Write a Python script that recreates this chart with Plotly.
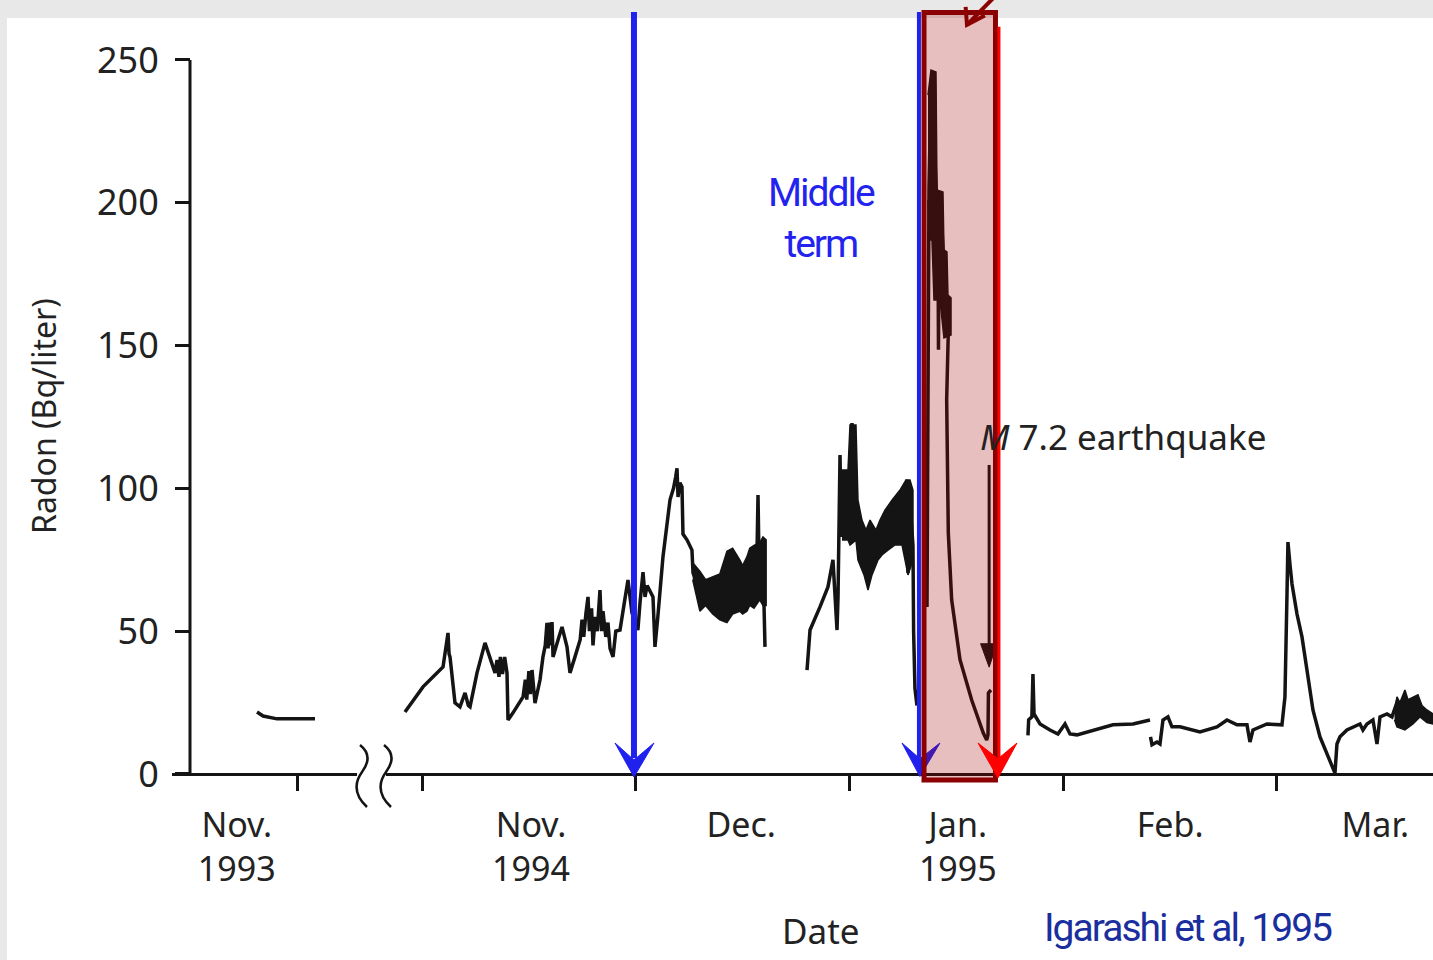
import plotly.graph_objects as go

# ---------------- data ----------------
# x = day index, day 0 = 1 Nov 1994 (each month drawn 30 days wide);
# the Nov 1993 block sits to the left of the axis break.
seg_nov1993 = [(-23.16, 21.7), (-22.3, 20.3), (-20.35, 19.3), (-15.02, 19.3)]

seg_nov_dec1994 = [
    (-2.39, 21.7), (0.14, 30.5), (2.95, 37.5), (3.5, 47), (3.65, 49.4), (3.8, 42), (3.93, 41.0),
    (4.63, 24.9), (5.33, 23.5), (6.04, 28.4), (6.5, 24), (6.74, 23.5), (7.72, 35.4), (8.84, 45.9),
    (9.54, 41.0), (10.0, 37), (10.25, 35.4), (10.53, 39.9), (10.8, 34), (11.0, 41), (11.3, 35),
    (11.6, 41), (11.93, 35.4), (12.07, 18.9), (12.77, 21.4), (14.18, 27.0), (14.5, 33), (14.7, 26),
    (15.0, 36), (15.2, 28), (15.44, 36.4), (15.86, 24.8), (16.56, 32.9), (16.98, 41.0), (17.3, 45),
    (17.54, 52.9), (17.7, 44), (17.9, 53), (18.1, 45), (18.25, 53.2), (18.39, 41.0), (19.09, 46.9),
    (19.65, 51.5), (20.35, 44.5), (20.77, 35.4), (21.47, 41.0), (22.2, 47), (22.46, 54), (22.7, 48),
    (23.0, 56), (23.3, 62), (23.5, 50), (23.8, 58), (24.0, 45), (24.3, 55), (24.6, 50), (24.98, 64.4),
    (25.2, 50), (25.4, 57), (25.8, 48), (26.1, 53), (26.39, 44), (26.81, 41.0), (27.2, 50),
    (27.79, 50.4), (28.4, 60), (28.91, 67.9), (29.47, 56.4), (30.3, 50.4), (30.6, 60), (31.02, 70.7),
    (31.3, 62), (31.6, 66), (32.42, 62.0), (32.7, 44.5), (33.1, 55), (33.82, 76.0), (34.81, 96.0),
    (35.3, 100), (35.6, 104), (35.79, 107.0), (35.93, 97), (36.2, 102), (36.49, 100.5), (36.63, 84.0),
    (37.19, 82), (37.6, 80), (37.89, 78.4), (38.04, 70.4), (39.0, 64), (41.0, 62), (43.0, 66),
    (45.0, 65), (46.6, 68), (47.0, 75), (47.16, 97.7), (47.3, 75), (47.9, 70), (48.14, 44.5),
]
band_dec1994 = [
    (38.0, 74), (39.0, 71), (39.8, 68), (40.8, 69), (41.8, 70), (42.8, 78), (43.6, 79), (44.6, 75),
    (45.0, 73), (45.6, 76), (46.0, 79), (46.6, 80), (47.4, 81), (47.86, 83), (48.3, 82),
    (48.3, 59), (47.86, 59), (47.4, 61), (46.6, 58), (46.0, 59), (45.6, 57), (45.0, 56), (44.6, 57),
    (43.6, 56), (42.8, 53), (41.8, 54), (40.8, 56), (39.8, 59), (39.0, 57), (38.0, 68),
]

seg_late_dec = [
    (54.04, 36.4), (54.46, 50.4), (55.86, 58.5), (56.98, 65.5), (57.68, 75.0), (58.25, 50.4),
    (58.39, 62), (58.67, 111.7), (58.85, 83), (59.1, 105), (59.8, 95), (60.35, 122.9), (60.6, 100),
    (61.19, 90), (61.8, 78), (62.6, 70), (63.3, 72), (64.3, 80), (65.3, 83), (66.5, 88), (67.5, 92),
    (68.07, 103), (68.21, 70.4), (68.5, 95), (68.91, 80), (69.0, 50), (69.19, 30), (69.47, 24),
]
band_late_dec = [
    (58.95, 106.4), (59.79, 106.4), (60.07, 122.2), (60.91, 122.2), (61.19, 95.9), (61.75, 88.9),
    (62.32, 85.4), (62.88, 88.9), (63.72, 85.4), (64.28, 88.9), (64.98, 92.4), (65.96, 95.9),
    (67.09, 99.4), (67.93, 102.9), (68.49, 102.9), (68.91, 99.4), (68.91, 74.9), (68.21, 69.7),
    (67.37, 80.2), (66.39, 80.2), (65.40, 78.4), (64.56, 76.7), (64.0, 74.9), (63.16, 69.7),
    (62.6, 64.4), (62.04, 69.7), (61.19, 74.9), (60.91, 81.9), (60.07, 80.2), (59.79, 81.9),
    (58.95, 81.9),
]

seg_jan1995 = [
    (70.88, 58.5), (71.02, 187), (71.16, 205), (71.44, 240), (71.58, 245.8), (72.0, 215),
    (72.42, 190), (72.49, 148.5), (72.56, 185), (73.0, 190), (73.4, 170), (73.9, 158), (73.64, 131),
    (73.87, 84.4), (74.34, 61), (75.51, 40), (77.15, 25.9), (78.78, 14.3), (79.26, 11.9),
    (79.44, 13.7), (79.5, 28.4), (79.86, 29.4),
]
band_jan1995 = [
    (71.02, 237.7), (71.44, 246.5), (72.14, 245.8), (72.28, 204.5), (73.12, 203.8), (73.26, 183.5),
    (73.68, 182.8), (73.82, 167.7), (74.25, 166.7), (74.25, 153.7), (73.26, 152.7), (72.7, 166),
    (71.86, 166), (71.58, 187), (71.16, 187), (71.02, 201),
]

seg_feb1995 = [
    (85.05, 13.5), (85.15, 19), (85.6, 20), (85.75, 35), (85.9, 21), (86.74, 17.5), (88.14, 15.4),
    (89.26, 14.0), (90.25, 17.5), (90.95, 14.0), (91.93, 13.7), (94.18, 15.4), (96.98, 17.2),
    (99.79, 17.5), (102.18, 18.9),
]
seg_feb_mar1995 = [
    (102.25, 13), (102.46, 10.2), (103.16, 11.2), (103.58, 10.5), (104.0, 18.9), (104.7, 20),
    (105.26, 16.5), (106.39, 16.5), (109.19, 14.7), (111.58, 16.5), (112.98, 18.9), (114.39, 17.2),
    (115.79, 17.2), (116.21, 11.2), (116.63, 15.4), (118.6, 17.5), (120.7, 17.2), (121.12, 27),
    (121.4, 62), (121.54, 81.2), (121.82, 73.5), (122.11, 66.5), (122.81, 56), (123.51, 48),
    (124.21, 36.4), (125.05, 22.4), (126.04, 13), (127.16, 6), (128.14, 0.3), (128.42, 10.5),
    (128.84, 13), (129.82, 15.4), (130.67, 16.5), (131.65, 17.5), (132.07, 15.4), (132.63, 17.5),
    (133.47, 18.9), (134.04, 10.5), (134.46, 20), (135.44, 21), (136.14, 20), (136.84, 25),
    (137.96, 24), (139.09, 22), (140.35, 21), (141.05, 20), (141.95, 19),
]
band_mar1995 = [
    (136.5, 22), (136.84, 27), (137.26, 25), (137.96, 29.4), (138.39, 26), (139.09, 27),
    (139.79, 27.7), (140.35, 24), (141.05, 22.4), (141.95, 21), (141.95, 17.5), (141.05, 18),
    (140.07, 20), (139.09, 17.5), (137.96, 15.4), (136.84, 16.5), (136.5, 19),
]

y_ticks = [0, 50, 100, 150, 200, 250]
x_label_pos = [-26.0, 15.3, 44.8, 75.2, 105.0, 133.8]
x_labels = ["Nov.<br>1993", "Nov.<br>1994", "Dec.", "Jan.<br>1995", "Feb.", "Mar."]
month_ticks = [-17.5, 0, 30, 60, 90, 120]

# ---------------- layout geometry ----------------
W, H = 1433, 960
ML, MR, MT, MB = 172, 0, 0, 177
PW, PH = W - ML - MR, H - MT - MB
XMIN, XMAX = -35.09, 141.9
YMAX = 271.0
YMIN = YMAX - PH / 2.856
XAX_POS = (0 - YMIN) / (YMAX - YMIN)
YAX_POS = 18 / PW
YAX_D = XMIN + YAX_POS * (XMAX - XMIN)

INK = "#141414"
TXT = "#222222"
BLUE = "#2121ee"
RED = "#ff0000"
DARKRED = "#8b0000"
FONT = "Noto Sans"
NARROW_FONT = "Roboto"
TIGHT = "letter-spacing:-2px"


def px_x(px):
    return (px - ML) / PW


def px_y(py):
    return (H - MB - py) / PH


def path(points, close=True):
    s = "M " + " L ".join(f"{a},{b}" for a, b in points)
    return s + (" Z" if close else "")


fig = go.Figure()

xs, ys = [], []
for seg in [seg_nov1993, seg_nov_dec1994, seg_late_dec, seg_jan1995, seg_feb1995, seg_feb_mar1995]:
    xs += [p[0] for p in seg] + [None]
    ys += [p[1] for p in seg] + [None]
fig.add_trace(go.Scatter(x=xs, y=ys, mode="lines", line=dict(color=INK, width=3.5),
                         connectgaps=False, hoverinfo="skip"))

for band in [band_dec1994, band_late_dec, band_jan1995, band_mar1995]:
    fig.add_trace(go.Scatter(x=[p[0] for p in band], y=[p[1] for p in band], mode="lines",
                             fill="toself", fillcolor=INK, line=dict(color=INK, width=1.5),
                             hoverinfo="skip"))

shapes = []
# white sheet over grey scan border
shapes.append(dict(type="rect", xref="paper", yref="paper", x0=px_x(7), x1=px_x(1440),
                   y0=px_y(965), y1=px_y(18), fillcolor="white", line_width=0, layer="below"))
# y axis line (0..250 only)
shapes.append(dict(type="line", x0=YAX_D, x1=YAX_D, y0=0, y1=250, line=dict(color=INK, width=3)))
# blue line 1
shapes.append(dict(type="line", x0=29.75, x1=29.75, y0=5.5, y1=266.8, line=dict(color=BLUE, width=6)))
shapes.append(dict(type="path", path=path([(27.09, 10.85), (29.75, -1.05), (32.56, 10.85), (29.75, 4.9)]),
                   fillcolor=BLUE, line=dict(color=BLUE, width=1)))
# blue line 2
shapes.append(dict(type="line", x0=69.75, x1=69.75, y0=5.5, y1=266.8, line=dict(color=BLUE, width=4)))
shapes.append(dict(type="path", path=path([(67.37, 10.85), (69.89, -0.9), (72.70, 10.85), (69.89, 5.3)]),
                   fillcolor=BLUE, line=dict(color=BLUE, width=1)))
# earthquake arrow
shapes.append(dict(type="line", x0=79.6, x1=79.6, y0=108.2, y1=45, line=dict(color=INK, width=3)))
shapes.append(dict(type="path", path=path([(78.4, 45.6), (80.7, 45.6), (79.6, 37.4)]),
                   fillcolor=INK, line=dict(color=INK, width=1)))
# pink window
shapes.append(dict(type="rect", x0=70.46, x1=80.49, y0=-2.1, y1=266.6,
                   fillcolor="rgba(162,0,0,0.25)", line=dict(color=DARKRED, width=5)))
# red line
shapes.append(dict(type="line", x0=80.98, x1=80.98, y0=5.5, y1=261.6, line=dict(color=RED, width=3)))
shapes.append(dict(type="path", path=path([(78.04, 10.85), (80.84, -1.4), (83.51, 10.85), (80.84, 5.3)]),
                   fillcolor=RED, line=dict(color=RED, width=1)))
# dark red pointer at top
shapes.append(dict(type="line", x0=80.7, x1=76.49, y0=273, y1=262.3, line=dict(color=DARKRED, width=4)))
shapes.append(dict(type="path", path=path([(76.3, 268.6), (76.49, 262.3), (79.0, 265.6)], close=False),
                   fillcolor="rgba(0,0,0,0)", line=dict(color=DARKRED, width=4)))
# axis break marks
shapes.append(dict(type="rect", xref="paper", yref="paper", x0=px_x(357), x1=px_x(386),
                   y0=px_y(779), y1=px_y(769), fillcolor="white", line_width=0))
for dx in (0, 24):
    pts = [(360 + dx, 745), (374 + dx, 756), (362 + dx, 772), (349 + dx, 790), (367 + dx, 807)]
    pp = [(px_x(a), px_y(b)) for a, b in pts]
    d = (f"M {pp[0][0]},{pp[0][1]} Q {pp[1][0]},{pp[1][1]} {pp[2][0]},{pp[2][1]} "
         f"Q {pp[3][0]},{pp[3][1]} {pp[4][0]},{pp[4][1]}")
    shapes.append(dict(type="path", xref="paper", yref="paper", path=d,
                       fillcolor="rgba(0,0,0,0)", line=dict(color=INK, width=2.5)))

for s in shapes:
    s.setdefault("xref", "x")
    s.setdefault("yref", "y")
    s.setdefault("layer", "above")

annotations = [
    dict(x=56.14, y=194.5, xref="x", yref="y",
         text=f'<span style="{TIGHT}">Middle</span><br><span style="{TIGHT}">term</span>',
         showarrow=False, xanchor="center", yanchor="middle",
         font=dict(family=NARROW_FONT, size=39, color="#2323f0")),
    dict(x=78.04, y=118.0, xref="x", yref="y", text="<i>M</i> 7.2 earthquake", showarrow=False,
         xanchor="left", yanchor="middle", font=dict(family=FONT, size=35, color=TXT)),
    dict(x=px_x(821), y=px_y(930), xref="paper", yref="paper", text="Date", showarrow=False,
         xanchor="center", yanchor="middle", font=dict(family=FONT, size=35, color=TXT)),
    dict(x=px_x(1188), y=px_y(928), xref="paper", yref="paper",
         text=f'<span style="{TIGHT}">Igarashi et al, 1995</span>', showarrow=False,
         xanchor="center", yanchor="middle",
         font=dict(family=NARROW_FONT, size=39, color="#1a2e9e")),
    dict(x=px_x(43), y=px_y(416), xref="paper", yref="paper", text="Radon (Bq/liter)",
         showarrow=False, textangle=-90, xanchor="center", yanchor="middle",
         font=dict(family=FONT, size=32, color=TXT)),
]

fig.update_layout(
    width=W, height=H, showlegend=False,
    margin=dict(l=ML, r=MR, t=MT, b=MB, pad=0),
    paper_bgcolor="#e8e8e8", plot_bgcolor="rgba(0,0,0,0)",
    shapes=shapes, annotations=annotations,
    xaxis=dict(range=[XMIN, XMAX], anchor="free", position=XAX_POS, showline=True,
               linecolor=INK, linewidth=3, showgrid=False, zeroline=False,
               tickmode="array", tickvals=x_label_pos, ticktext=x_labels, ticks="",
               tickfont=dict(family=FONT, size=34, color=TXT), ticklabelstandoff=20,
               minor=dict(tickmode="array", tickvals=month_ticks, ticks="outside",
                          ticklen=15, tickwidth=3, tickcolor=INK)),
    yaxis=dict(range=[YMIN, YMAX], anchor="free", position=YAX_POS, showline=False,
               showgrid=False, zeroline=False, tickmode="array", tickvals=y_ticks,
               ticks="outside", ticklen=15, tickwidth=3, tickcolor=INK,
               tickfont=dict(family=FONT, size=36, color=TXT), ticklabelstandoff=9),
)

fig.write_html("out.html", config={"displayModeBar": False},
               post_script="document.body.style.margin='0px';")
